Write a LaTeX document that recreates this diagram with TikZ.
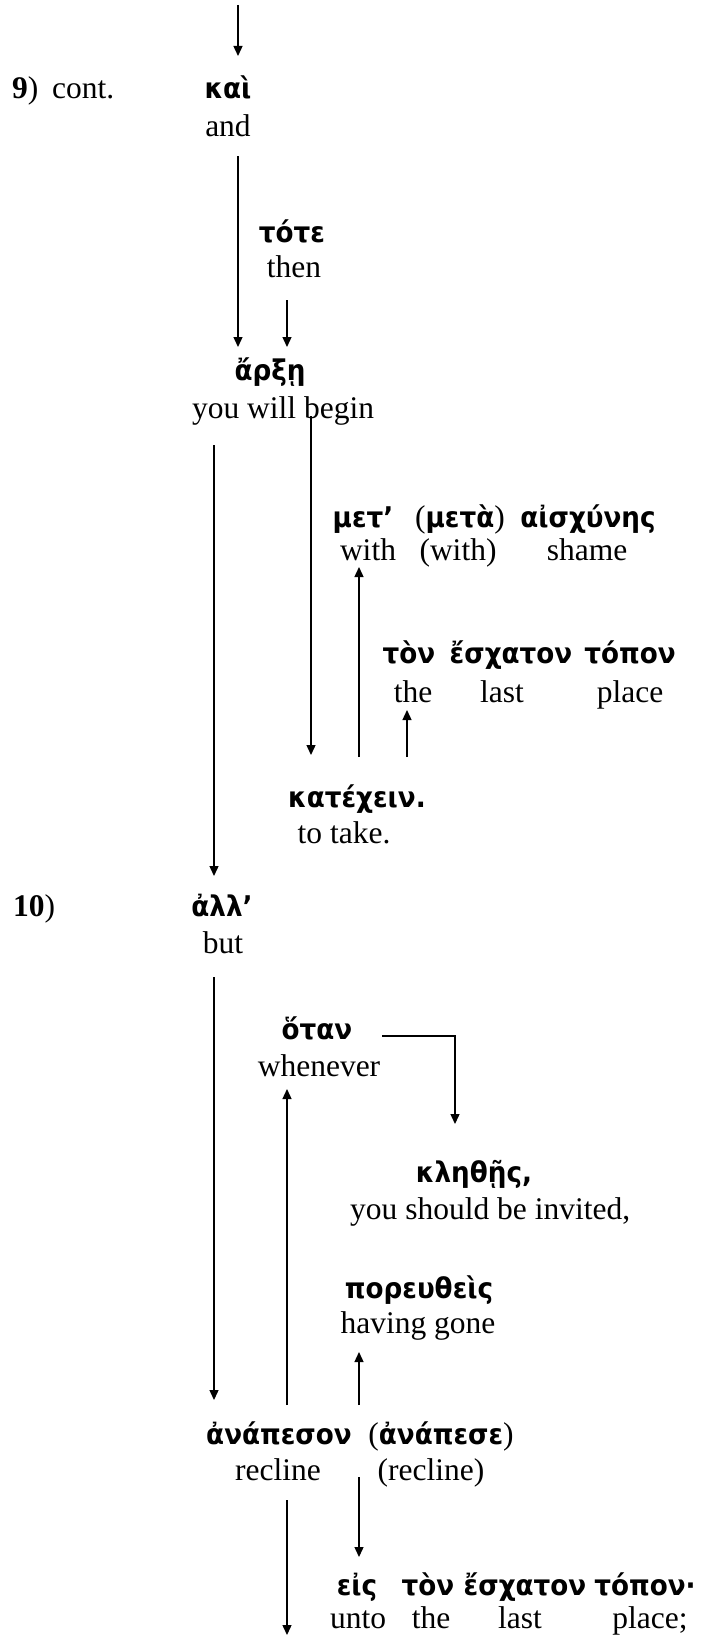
\documentclass[tikz,border=0pt]{standalone}
\usepackage{fontspec}
\setmainfont{Liberation Serif}
\newfontfamily\grkfont{DejaVu Sans}[Script=Greek,FakeStretch=0.92]
\usetikzlibrary{arrows.meta}
\newcommand\myEn{\fontsize{31.5}{37}\selectfont}
\newcommand\myGr{\grkfont\bfseries\fontsize{28.5}{34}\selectfont}
\newcommand\pEn[1]{{\normalfont\myEn #1}}
\begin{document}
\begin{tikzpicture}[x=1pt,y=-1pt,
  en/.style={font=\myEn,anchor=base,inner sep=0pt},
  gr/.style={font=\myGr,anchor=base,inner sep=0pt},
  arr/.style={line width=1.35pt,-{Triangle[length=10pt,width=9pt]}}]
\useasboundingbox (0,0) rectangle (703,1635);
% column coordinates
\coordinate (cA) at (238,0);
\coordinate (cB) at (287,0);
\coordinate (cL) at (214,0);
\coordinate (cC) at (311,0);
\coordinate (cD) at (359,0);
\coordinate (cE) at (407,0);
\coordinate (cF) at (455,0);
\coordinate (cG) at (382,0);
\coordinate (topstart) at (238,5);
\coordinate (bottomend) at (287,1635);
% text
\node[en,anchor=base west] (n9) at (12,99) {\textbf{9})};
\node[en,anchor=base west] (cont) at (52,99) {cont.};
\node[gr] (kai) at (228,99) {καὶ};
\node[en] (eand) at (228,137) {and};
\node[gr] (tote) at (292,242) {τότε};
\node[en] (then) at (294,277) {then};
\node[gr] (arxe) at (270,380) {ἄρξῃ};
\node[en] (begin) at (283,418) {you will begin};
\node[gr] (met) at (363,527) {μετ’};
\node[gr] (meta) at (460,527) {\pEn{(}μετὰ\pEn{)}};
\node[gr] (aisch) at (588,527) {αἰσχύνης};
\node[en] (with) at (368,560) {with};
\node[en] (withb) at (458,560) {(with)};
\node[en] (shame) at (587,560) {shame};
\node[gr] (ton) at (409,663) {τὸν};
\node[gr] (esch) at (511,663) {ἔσχατον};
\node[gr] (topon) at (630,663) {τόπον};
\node[en] (ethe) at (413,702) {the};
\node[en] (elast) at (502,702) {last};
\node[en] (eplace) at (630,702) {place};
\node[gr] (kat) at (357,807) {κατέχειν.};
\node[en] (take) at (344,843) {to take.};
\node[en,anchor=base west] (n10) at (13,916) {\textbf{10})};
\node[gr] (all) at (222,916) {ἀλλ’};
\node[en] (but) at (223,953) {but};
\node[gr] (otan) at (317,1039) {ὅταν};
\node[en] (whenever) at (319,1076) {whenever};
\node[gr] (kleth) at (474,1182) {κληθῇς,};
\node[en,anchor=base west] (invited) at (350,1219) {you should be invited,};
\node[gr] (por) at (419,1298) {πορευθεὶς};
\node[en] (gone) at (418,1333) {having gone};
\node[gr] (anap) at (279,1444) {ἀνάπεσον};
\node[gr] (anapb) at (441,1444) {\pEn{(}ἀνάπεσε\pEn{)}};
\node[en] (recl) at (278,1480) {recline};
\node[en] (reclb) at (431,1480) {(recline)};
\node[gr] (eis) at (357,1595) {εἰς};
\node[gr] (tonb) at (428,1595) {τὸν};
\node[gr] (eschb) at (525,1595) {ἔσχατον};
\node[gr] (toponb) at (645,1595) {τόπον·};
\node[en] (unto) at (358,1628) {unto};
\node[en] (theb) at (431,1628) {the};
\node[en] (lastb) at (520,1628) {last};
\node[en] (placeb) at (650,1628) {place;};
% connectors
\draw[arr] (topstart) -- ([yshift=43pt]kai.base -| cA);
\draw[arr] ([yshift=-19pt]eand.base -| cA) -- ([yshift=33pt]arxe.base -| cA);
\draw[arr] ([yshift=-23pt]then.base -| cB) -- ([yshift=33pt]arxe.base -| cB);
\draw[arr] ([yshift=-27pt]begin.base -| cL) -- ([yshift=40pt]all.base -| cL);
\draw[arr] ([yshift=2pt]begin.base -| cC) -- ([yshift=52pt]kat.base -| cC);
\draw[arr] ([yshift=50pt]kat.base -| cD) -- ([yshift=-7pt]with.base -| cD);
\draw[arr] ([yshift=50pt]kat.base -| cE) -- ([yshift=-8pt]ethe.base -| cE);
\draw[arr] ([yshift=-24pt]but.base -| cL) -- ([yshift=44pt]anap.base -| cL);
\draw[arr] ([yshift=39pt]anap.base -| cB) -- ([yshift=-13pt]whenever.base -| cB);
\draw[arr] ([yshift=3pt]otan.base -| cG) -- ([yshift=3pt]otan.base -| cF) -- ([yshift=58pt]kleth.base -| cF);
\draw[arr] ([yshift=39pt]anap.base -| cD) -- ([yshift=-19pt]gone.base -| cD);
\draw[arr] ([yshift=3pt]reclb.base -| cD) -- ([yshift=38pt]eis.base -| cD);
\draw[arr] ([yshift=-20pt]recl.base -| cB) -- (bottomend);
\end{tikzpicture}
\end{document}
